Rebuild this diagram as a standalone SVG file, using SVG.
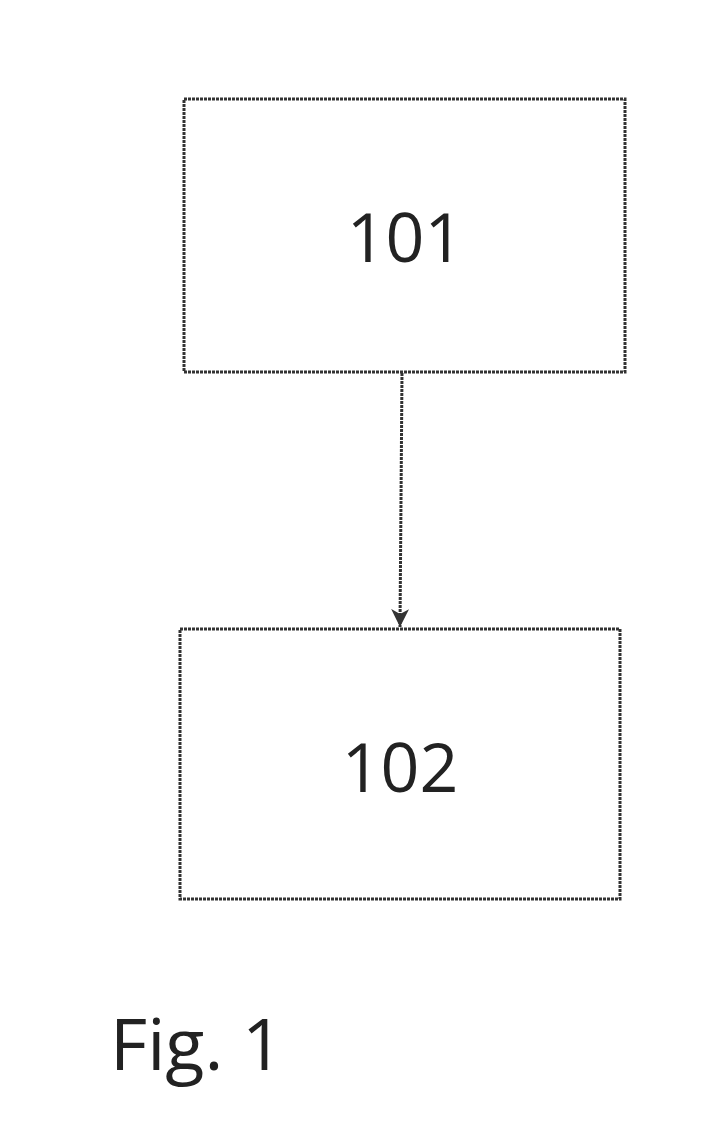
<svg xmlns="http://www.w3.org/2000/svg" width="707" height="1142" viewBox="0 0 707 1142">
<style>
.box{fill:none;stroke:#333;stroke-width:3;stroke-dasharray:3 1}
.lbl{font-family:"Open Sans","Liberation Sans",sans-serif;font-size:68px;fill:#222;text-anchor:middle}
.conn{stroke:#333;stroke-width:3;fill:none;stroke-dasharray:3 1}
</style>
<defs>
<marker id="arr" markerWidth="20" markerHeight="18" refX="18" refY="9" orient="auto" markerUnits="userSpaceOnUse" viewBox="0 0 20 18">
<path d="M0,0 L18,9 L0,18 L5,9 z" fill="#333"/>
</marker>
</defs>
<rect width="707" height="1142" fill="#fff"/>
<g id="connectors">
<path class="conn" d="M402,373 L400,627" marker-end="url(#arr)"/>
</g>
<g id="node101">
<rect class="box" x="184" y="99" width="441" height="273"/>
<text class="lbl" x="405" y="262">101</text>
</g>
<g id="node102">
<rect class="box" x="180" y="629" width="440" height="270"/>
<text class="lbl" x="400" y="792">102</text>
</g>
<g id="caption">
<text x="110" y="1070" style="font-family:'Open Sans','Liberation Sans',sans-serif;font-size:72px;fill:#222">Fig. 1</text>
</g>
</svg>
